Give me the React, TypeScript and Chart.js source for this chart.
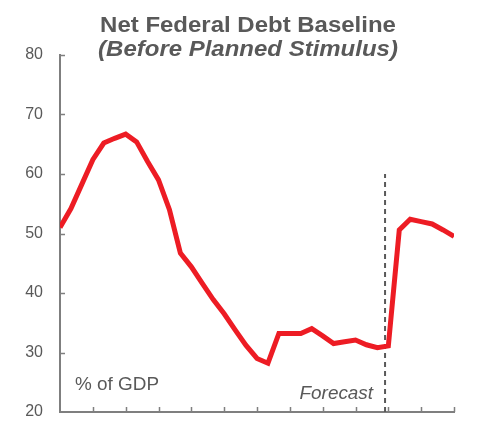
import { useEffect, useRef } from "react";
import { Chart, registerables } from "chart.js";

Chart.register(...registerables);

// ---- Data ----
const periods: number[] = [
  0, 1, 2, 3, 4, 5, 6, 7, 8, 9, 10, 11, 12, 13, 14, 15, 16, 17, 18,
  19, 20, 21, 22, 23, 24, 25, 26, 27, 28, 29, 30, 31, 32, 33, 34, 35, 36,
];
const netDebt: number[] = [
  51.0, 54.2, 58.3, 62.4, 65.2, 66.0, 66.7, 65.4, 62.1, 59.0, 54.0, 46.7,
  44.4, 41.6, 38.9, 36.5, 33.8, 31.2, 29.0, 28.2, 33.2, 33.2, 33.2, 34.0,
  32.8, 31.5, 31.8, 32.1, 31.3, 30.8, 31.1, 50.6, 52.4, 52.0, 51.6, 50.6,
  49.5,
];
const yTickValues: number[] = [20, 30, 40, 50, 60, 70, 80];
const xTickStep = 3;
const forecastStart = 29.7;
const forecastTop = 60;

const titleLine1 = "Net Federal Debt Baseline";
const titleLine2 = "(Before Planned Stimulus)";
const unitLabel = "% of GDP";
const forecastLabel = "Forecast";

const TEXT = "#595959";
const AXIS = "#7f7f7f";
const RED = "#ED1C24";
const FONT = "'Liberation Sans', Arial, Helvetica, sans-serif";

function drawText(
  ctx: CanvasRenderingContext2D,
  text: string,
  x: number,
  y: number,
  font: string,
  align: CanvasTextAlign,
  sx = 1.08
) {
  ctx.save();
  ctx.font = font;
  ctx.fillStyle = TEXT;
  ctx.textAlign = align;
  ctx.textBaseline = "alphabetic";
  ctx.translate(x, y);
  ctx.scale(sx, 1);
  ctx.fillText(text, 0, 0);
  ctx.restore();
}

const inwardTicks = {
  id: "inwardTicks",
  beforeDatasetsDraw(chart: any) {
    const { ctx, chartArea, scales } = chart;
    const xs = scales.x;
    const ys = scales.y;
    ctx.save();
    ctx.strokeStyle = AXIS;
    ctx.lineWidth = 1.5;
    ctx.beginPath();
    xs.ticks.forEach((t: any) => {
      if (t.value <= xs.min) return;
      const px = Math.round(xs.getPixelForValue(t.value)) + 0.5;
      ctx.moveTo(px, chartArea.bottom);
      ctx.lineTo(px, chartArea.bottom - 5);
    });
    ys.ticks.forEach((t: any) => {
      if (t.value <= ys.min) return;
      const py = Math.round(ys.getPixelForValue(t.value)) + 0.5;
      ctx.moveTo(chartArea.left, py);
      ctx.lineTo(chartArea.left + 5, py);
    });
    ctx.stroke();
    ctx.restore();
  },
};

const annotations = {
  id: "annotations",
  afterDraw(chart: any) {
    const { ctx, chartArea, scales } = chart;
    drawText(ctx, titleLine1, 248, 31.5, `bold 22px ${FONT}`, "center", 1.09);
    drawText(ctx, titleLine2, 248, 56, `italic bold 22px ${FONT}`, "center", 1.09);
    drawText(ctx, unitLabel, chartArea.left + 15, chartArea.bottom - 22, `17.5px ${FONT}`, "left");
    const fx = scales.x.getPixelForValue(forecastStart);
    drawText(ctx, forecastLabel, fx - 12, chartArea.bottom - 13, `italic 17.5px ${FONT}`, "right");
  },
};

export default function App() {
  const canvasRef = useRef<HTMLCanvasElement | null>(null);

  useEffect(() => {
    const canvas = canvasRef.current;
    if (!canvas) return;
    const chart = new Chart(canvas, {
      type: "line",
      data: {
        datasets: [
          {
            label: "Net federal debt",
            data: periods.map((p, i) => ({ x: p, y: netDebt[i] })),
            borderColor: RED,
            backgroundColor: RED,
            borderWidth: 5,
            pointRadius: 0,
            tension: 0,
            fill: false,
          },
          {
            label: "Forecast",
            data: [
              { x: forecastStart, y: yTickValues[0] },
              { x: forecastStart, y: forecastTop },
            ],
            borderColor: TEXT,
            borderWidth: 2,
            borderDash: [5, 4],
            pointRadius: 0,
            fill: false,
          },
        ],
      },
      options: {
        responsive: false,
        animation: false,
        devicePixelRatio: 1,
        layout: { padding: { top: 55, right: 27, bottom: 12, left: 0 } },
        plugins: {
          legend: { display: false },
          tooltip: { enabled: false },
          title: { display: false },
        },
        scales: {
          x: {
            type: "linear",
            min: periods[0],
            max: periods[periods.length - 1],
            ticks: { display: false, stepSize: xTickStep },
            grid: { display: false, drawTicks: false },
            border: { display: true, color: AXIS, width: 2 },
            afterFit: (s: any) => {
              s.height = 0;
            },
          },
          y: {
            type: "linear",
            min: yTickValues[0],
            max: yTickValues[yTickValues.length - 1],
            afterBuildTicks: (s: any) => {
              s.ticks = yTickValues.map((v) => ({ value: v }));
            },
            ticks: {
              color: TEXT,
              padding: 17,
              font: { family: FONT, size: 16 },
            },
            grid: { display: false, drawTicks: false },
            border: { display: true, color: AXIS, width: 2 },
            afterFit: (s: any) => {
              s.width = 60;
              s.paddingTop = 10;
              s.paddingBottom = 10;
            },
          },
        },
      },
      plugins: [inwardTicks, annotations],
    });
    return () => chart.destroy();
  }, []);

  return (
    <div style={{ position: "absolute", left: 0, top: 0, width: 481, height: 424 }}>
      <canvas ref={canvasRef} width={481} height={424} />
    </div>
  );
}
